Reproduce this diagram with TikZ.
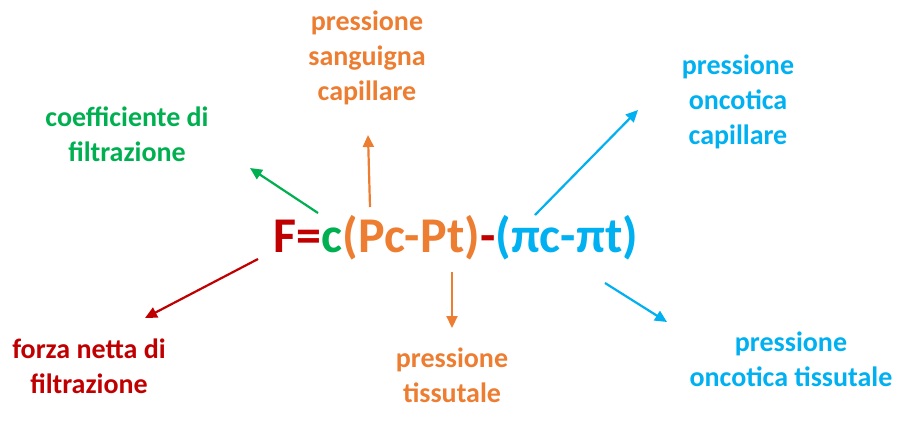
\documentclass[tikz,border=0pt]{standalone}
\usepackage{fontspec}
\setmainfont{Carlito}
\usepackage{xcolor}
\usepackage{tikz}
\usetikzlibrary{arrows.meta}
\definecolor{filtRed}{RGB}{192,0,0}
\definecolor{filtGreen}{RGB}{0,176,80}
\definecolor{filtOrange}{RGB}{237,125,49}
\definecolor{filtBlue}{RGB}{0,176,240}

\begin{document}
\begin{tikzpicture}[x=1pt,y=-1pt,
  lbl/.style={font=\fontsize{28}{35}\selectfont\bfseries, align=center},
  arr/.style={line width=2.2pt, -{Triangle[length=12pt,width=11pt]}}]
\useasboundingbox (0,0) rectangle (898,421);

% formula
\node[font=\fontsize{50}{56}\selectfont\bfseries] (formula) at (456,238)
{\textcolor{filtRed}{F=}\textcolor{filtGreen}{c}\textcolor{filtOrange}{(Pc-Pt)}\textcolor{filtRed}{-}\textcolor{filtBlue}{(πc-πt)}};

% labels
\node[lbl, text=filtOrange] (sang) at (367,57.5) {pressione\\sanguigna\\capillare};
\node[lbl, text=filtGreen] (coeff) at (127,134) {coefficiente di\\filtrazione};
\node[lbl, text=filtBlue] (oncCap) at (738,101.5) {pressione\\oncotica\\capillare};
\node[lbl, text=filtRed] (forza) at (89,366) {forza netta di\\filtrazione};
\node[lbl, text=filtOrange] (tiss) at (452,375) {pressione\\tissutale};
\node[lbl, text=filtBlue] (oncTiss) at (791,359.5) {pressione\\oncotica tissutale};

% arrow ends
\coordinate (cS) at (318,213);  \coordinate (cE) at (250,168);
\coordinate (pS) at (370,207);  \coordinate (pE) at (368,135);
\coordinate (oS) at (535,215);  \coordinate (oE) at (638,110);
\coordinate (fS) at (258,259);  \coordinate (fE) at (145,318);
\coordinate (tS) at (452,272);  \coordinate (tE) at (452,328);
\coordinate (qS) at (605,283);  \coordinate (qE) at (667,322);

\draw[arr, filtGreen] (cS) -- (cE);
\draw[arr, filtOrange] (pS) -- (pE);
\draw[arr, filtBlue] (oS) -- (oE);
\draw[arr, filtRed] (fS) -- (fE);
\draw[arr, filtOrange] (tS) -- (tE);
\draw[arr, filtBlue] (qS) -- (qE);
\end{tikzpicture}
\end{document}
